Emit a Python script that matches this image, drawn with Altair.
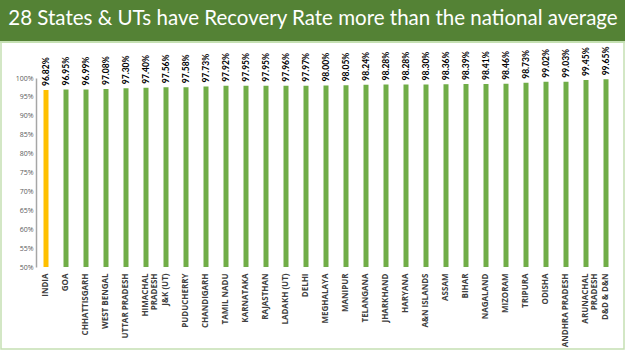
import altair as alt
import pandas as pd

states = ["INDIA", "GOA", "CHHATTISGARH", "WEST BENGAL", "UTTAR PRADESH",
          "HIMACHAL\nPRADESH", "J&K (UT)", "PUDUCHERRY", "CHANDIGARH", "TAMIL NADU",
          "KARNATAKA", "RAJASTHAN", "LADAKH (UT)", "DELHI", "MEGHALAYA",
          "MANIPUR", "TELANGANA", "JHARKHAND", "HARYANA", "A&N ISLANDS",
          "ASSAM", "BIHAR", "NAGALAND", "MIZORAM", "TRIPURA",
          "ODISHA", "ANDHRA PRADESH", "ARUNACHAL\nPRADESH", "D&D & D&N"]
rates = [96.82, 96.95, 96.99, 97.08, 97.30,
         97.40, 97.56, 97.58, 97.73, 97.92,
         97.95, 97.95, 97.96, 97.97, 98.00,
         98.05, 98.24, 98.28, 98.28, 98.30,
         98.36, 98.39, 98.41, 98.46, 98.73,
         99.02, 99.03, 99.45, 99.65]
y_ticks = [50, 55, 60, 65, 70, 75, 80, 85, 90, 95, 100]
title_text = "28 States & UTs have Recovery Rate more than the national average"

df = pd.DataFrame({"state": states, "rate": [r / 100 for r in rates]})

W, H = 580, 189
LEFT, TOP = 36, 78

xenc = alt.X("state:N", sort=None,
             scale=alt.Scale(paddingInner=0.75, paddingOuter=0.375),
             axis=alt.Axis(title=None, labelAngle=-90, domain=False, ticks=False,
                           labelPadding=6, labelFont="Open Sans", labelFontSize=8,
                           labelFontWeight="bold", labelColor="#404040",
                           labelExpr="split(datum.label, '\\n')", labelOverlap=False,
                           labelLineHeight=9, labelLimit=200))
yenc = alt.Y("rate:Q", scale=alt.Scale(domain=[0.5, 1.0], nice=False, zero=False),
             axis=alt.Axis(title=None, values=[t / 100 for t in y_ticks],
                           format=".0%", grid=False, ticks=False, labelPadding=3,
                           labelOverlap=False, labelFlush=False,
                           labelFont="Open Sans", labelFontSize=7, labelColor="#595959",
                           domainColor="#a6a6a6", domainWidth=1.5))

base = alt.Chart(df)

bars = base.mark_bar().encode(
    x=xenc, y=yenc, y2=alt.datum(0.5),
    color=alt.condition(alt.datum.state == "INDIA", alt.value("#FFC000"), alt.value("#70AD47")),
)

labels = base.mark_text(angle=270, align="left", baseline="middle", dx=4,
                        font="Lato", fontSize=8.5, fontWeight="bold", color="#000000").encode(
    x=xenc, y=yenc,
    text=alt.Text("rate:Q", format=".2%"),
)

deco = alt.Chart(pd.DataFrame({"k": [0]}))
frame = deco.mark_rect(fillOpacity=0, stroke="#c5e0b3", strokeWidth=1.5).encode(
    x=alt.value(-LEFT + 1), x2=alt.value(625 - LEFT - 1),
    y=alt.value(-36), y2=alt.value(351 - TOP - 2))
header = deco.mark_rect(color="#548235").encode(
    x=alt.value(-LEFT), x2=alt.value(625 - LEFT), y=alt.value(-TOP), y2=alt.value(-37))
hline = deco.mark_rect(color="#c5e0b3").encode(
    x=alt.value(-LEFT), x2=alt.value(625 - LEFT), y=alt.value(-37), y2=alt.value(-35))
title = deco.mark_text(text=title_text, font="Lato", fontSize=20.5, color="white",
                       align="center", baseline="middle").encode(
    x=alt.value(313 - LEFT), y=alt.value(-TOP + 19))

chart = alt.layer(frame, header, hline, title, bars, labels).properties(
    width=W, height=H,
    autosize=alt.AutoSizeParams(type="none"),
    padding={"left": LEFT, "top": TOP, "right": 625 - LEFT - W, "bottom": 351 - TOP - H},
    background="white",
).configure_view(stroke=None)

chart.save("out.html", embed_options={"renderer": "svg", "actions": False})
